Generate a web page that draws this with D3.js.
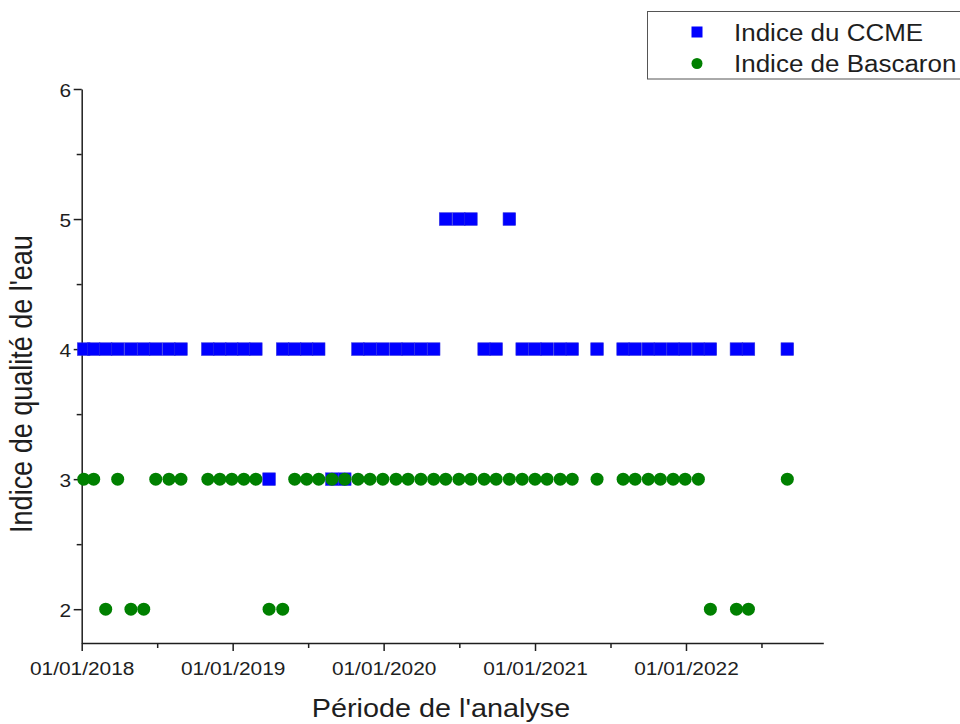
<!DOCTYPE html>
<html>
<head>
<meta charset="utf-8">
<script src="https://cdn.jsdelivr.net/npm/d3@7"></script>
<style>
  html, body { margin: 0; padding: 0; background: #fff; }
  svg { display: block; font-family: "Liberation Sans", Arial, sans-serif; }
</style>
</head>
<body>
<svg id="chart" width="960" height="724"></svg>
<script>
// Sampling dates of the analyses
const sampleDates = [
  "2018-01-06", "2018-01-30", "2018-02-28", "2018-03-29", "2018-04-30", "2018-05-31",
  "2018-06-29", "2018-07-31", "2018-08-29", "2018-11-02", "2018-12-01", "2018-12-30",
  "2019-01-28", "2019-02-26", "2019-03-30", "2019-05-02", "2019-05-31", "2019-06-29",
  "2019-07-28", "2019-08-29", "2019-09-29", "2019-10-31", "2019-11-29", "2019-12-30",
  "2020-01-31", "2020-02-29", "2020-03-31", "2020-05-01", "2020-05-30", "2020-07-01",
  "2020-07-30", "2020-08-31", "2020-09-29", "2020-10-31", "2020-12-01", "2021-01-01",
  "2021-01-30", "2021-03-03", "2021-04-01", "2021-05-31", "2021-08-02", "2021-08-31",
  "2021-10-02", "2021-10-31", "2021-12-01", "2021-12-30", "2022-01-31", "2022-03-01",
  "2022-05-03", "2022-06-01", "2022-09-03"
];

// CCME water quality index for each date
const ccmeValues = [
  4, 4, 4, 4, 4, 4,
  4, 4, 4, 4, 4, 4,
  4, 4, 3, 4, 4, 4,
  4, 3, 3, 4, 4, 4,
  4, 4, 4, 4, 5, 5,
  5, 4, 4, 5, 4, 4,
  4, 4, 4, 4, 4, 4,
  4, 4, 4, 4, 4, 4,
  4, 4, 4
];

// Bascaron water quality index for each date
const bascaronValues = [
  3, 3, 2, 3, 2, 2,
  3, 3, 3, 3, 3, 3,
  3, 3, 2, 2, 3, 3,
  3, 3, 3, 3, 3, 3,
  3, 3, 3, 3, 3, 3,
  3, 3, 3, 3, 3, 3,
  3, 3, 3, 3, 3, 3,
  3, 3, 3, 3, 3, 2,
  2, 2, 3
];

const seriesNames = ["Indice du CCME", "Indice de Bascaron"];
const xTickDates = ["2018-01-01", "2019-01-01", "2020-01-01", "2021-01-01", "2022-01-01", "2023-01-01"];
const xDomain = ["2018-01-01", "2022-11-29"];
const yTickValues = [2, 3, 4, 5, 6];
const yMinorTickValues = [2.5, 3.5, 4.5, 5.5];
const yDomain = [1.74, 6];
const xTitle = "Période de l'analyse";
const yTitle = "Indice de qualité de l'eau";

const parse = d3.utcParse("%Y-%m-%d");
const fmt = d3.utcFormat("%d/%m/%Y");
const TEXT_SX = 1.13;          // glyphs are drawn slightly wide
const INK = "#1e1e1e";
const BLUE = "#0000ff";
const GREEN = "#008000";

const svg = d3.select("#chart");

const x = d3.scaleUtc().domain(xDomain.map(parse)).range([81.7, 823.3]);
const y = d3.scaleLinear().domain(yDomain).range([643, 89]);

const majorDates = xTickDates.map(parse).filter(d => d <= x.domain()[1]);
const allYears = xTickDates.map(parse);
const minorDates = d3.pairs(allYears)
  .map(([a, b]) => new Date((+a + +b) / 2))
  .filter(d => d <= x.domain()[1]);

// X axis: minor then major ticks
const gxMinor = svg.append("g").attr("transform", `translate(0,${y.range()[0]})`)
  .call(d3.axisBottom(x).tickValues(minorDates).tickSize(5).tickSizeOuter(0).tickFormat(""));
gxMinor.select(".domain").remove();

const gx = svg.append("g").attr("transform", `translate(0,${y.range()[0]})`)
  .call(d3.axisBottom(x).tickValues(majorDates).tickSize(8).tickSizeOuter(0).tickFormat(fmt));

gx.selectAll("text")
  .attr("y", null).attr("dy", null)
  .attr("transform", `translate(0,32) scale(${TEXT_SX},1)`)
  .style("font-size", "18.5px")
  .attr("fill", INK);

// Y axis
const gyMinor = svg.append("g").attr("transform", `translate(${x.range()[0]},0)`)
  .call(d3.axisLeft(y).tickValues(yMinorTickValues).tickSize(5).tickSizeOuter(0).tickFormat(""));
gyMinor.select(".domain").remove();

const gy = svg.append("g").attr("transform", `translate(${x.range()[0]},0)`)
  .call(d3.axisLeft(y).tickValues(yTickValues).tickSize(8).tickSizeOuter(0).tickFormat(d3.format("d")));

gy.selectAll("text")
  .attr("x", null).attr("dy", null)
  .attr("transform", `translate(-10.5,7) scale(${TEXT_SX},1)`)
  .style("font-size", "18.5px")
  .attr("fill", INK);

[gx, gxMinor, gy, gyMinor].forEach(g => {
  g.selectAll("line").attr("stroke", INK).attr("stroke-width", 1.5);
  g.selectAll(".domain").attr("stroke", INK).attr("stroke-width", 1.5);
});

// Axis titles
svg.append("text")
  .attr("transform", `translate(441,717) scale(${TEXT_SX},1)`)
  .attr("text-anchor", "middle")
  .style("font-size", "25.5px")
  .attr("fill", INK)
  .text(xTitle);

svg.append("text")
  .attr("transform", `translate(32,384) scale(${TEXT_SX},1) rotate(-90)`)
  .attr("text-anchor", "middle")
  .style("font-size", "27px")
  .attr("fill", INK)
  .text(yTitle);

// Data points
const rows = sampleDates.map((d, i) => ({
  date: parse(d), ccme: ccmeValues[i], bascaron: bascaronValues[i]
}));

const SQ = 12.6;
svg.append("g").selectAll("rect")
  .data(rows)
  .join("rect")
  .attr("x", d => x(d.date) - SQ / 2)
  .attr("y", d => y(d.ccme) - SQ / 2)
  .attr("width", SQ)
  .attr("height", SQ)
  .attr("fill", BLUE)
  .attr("stroke", "#2a2ae0")
  .attr("stroke-width", 0.6);

svg.append("g").selectAll("circle")
  .data(rows)
  .join("circle")
  .attr("cx", d => x(d.date))
  .attr("cy", d => y(d.bascaron))
  .attr("r", 6.5)
  .attr("fill", GREEN);

// Legend
const legend = svg.append("g");
legend.append("rect")
  .attr("x", 647.5).attr("y", 11.5)
  .attr("width", 330).attr("height", 67.5)
  .attr("fill", "#fff")
  .attr("stroke", "#555")
  .attr("stroke-width", 1);

const legendItems = [
  { name: seriesNames[0], shape: "square", color: BLUE, cy: 32 },
  { name: seriesNames[1], shape: "circle", color: GREEN, cy: 63.5 }
];
legendItems.forEach(item => {
  if (item.shape === "square") {
    legend.append("rect")
      .attr("x", 697 - 5.5).attr("y", item.cy - 5.5)
      .attr("width", 11).attr("height", 11)
      .attr("fill", item.color);
  } else {
    legend.append("circle")
      .attr("cx", 697).attr("cy", item.cy).attr("r", 5.5)
      .attr("fill", item.color);
  }
  legend.append("text")
    .attr("transform", `translate(734,${item.cy + 8.5}) scale(${TEXT_SX},1)`)
    .style("font-size", "23px")
    .attr("fill", INK)
    .text(item.name);
});
</script>
</body>
</html>
